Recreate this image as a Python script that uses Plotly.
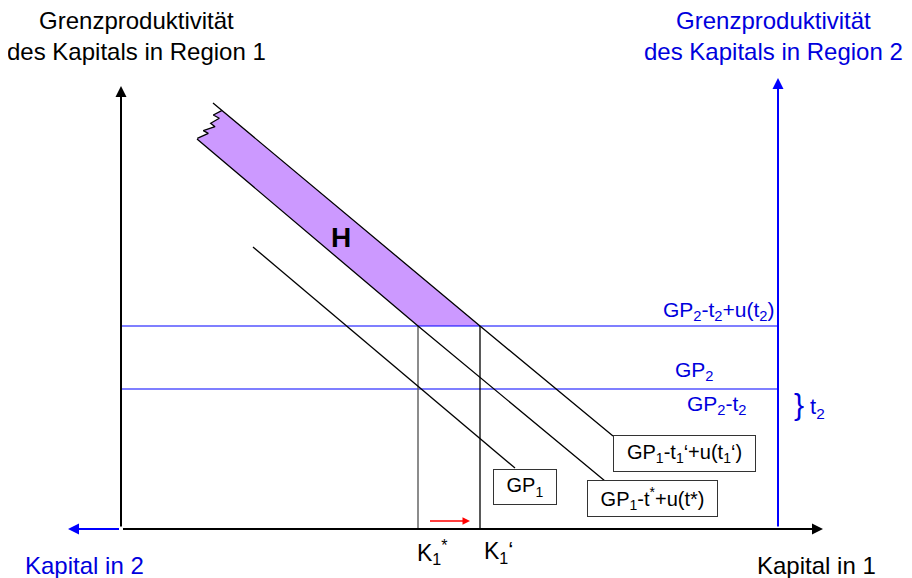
import plotly.graph_objects as go

# ---- diagram data (capital in region 1 on x, marginal productivity on y) ----
gp1_k = [132, 394]
gp1_v = [282, 61]
gp1_tstar_k = [76, 297, 484]
gp1_tstar_v = [390, 203, 48]
gp1_t1_k = [92, 359, 492]
gp1_t1_v = [426, 203, 93]
gp2_level = 140          # GP2
gp2_u_level = 203        # GP2 - t2 + u(t2)
k1_star = 297
k1_prime = 359
k_total = 657            # position of region-2 axis
v_axis1_top = 443
v_axis2_top = 451
k_axis_end = 702
k2_axis_end = -53
zig_k = [76.3, 87.3, 82.3, 94, 89.7, 98.3, 92.3, 100.7]
zig_v = [390.7, 395.7, 398.3, 402.3, 405.7, 410.7, 414, 418.3]
shift_from = 307
shift_to = 349
shift_level = 8

FONT = "Liberation Sans, Arial, sans-serif"
BLUE = "#0000FF"
BLUE_TXT = "#0000DD"

fig = go.Figure()

# purple area H
poly_k = [gp1_t1_k[0], gp1_t1_k[1], gp1_tstar_k[1], gp1_tstar_k[0]] + zig_k[1:] + [gp1_t1_k[0]]
poly_v = [gp1_t1_v[0], gp1_t1_v[1], gp1_tstar_v[1], gp1_tstar_v[0]] + zig_v[1:] + [gp1_t1_v[0]]
fig.add_trace(go.Scatter(x=poly_k, y=poly_v, mode="lines", fill="toself",
                         fillcolor="#CC99FF", line=dict(width=0), hoverinfo="skip"))

def line(xs, ys, color="black", width=1.3):
    fig.add_trace(go.Scatter(x=xs, y=ys, mode="lines",
                             line=dict(color=color, width=width), hoverinfo="skip"))

# horizontal GP2 lines
line([0, k_total], [gp2_u_level, gp2_u_level], BLUE, 1.2)
line([0, k_total], [gp2_level, gp2_level], BLUE, 1.2)
# vertical K lines
line([k1_star, k1_star], [0, gp2_u_level], "#666666", 1.5)
line([k1_prime, k1_prime], [0, gp2_u_level], "black", 1.3)
# GP curves
line(gp1_k, gp1_v)
line(gp1_tstar_k, gp1_tstar_v)
line(gp1_t1_k, gp1_t1_v)
line(zig_k, zig_v)

annotations = []

def arrow(x0, y0, x1, y1, color, width=2, size=1.1):
    annotations.append(dict(x=x1, y=y1, ax=x0, ay=y0, xref="x", yref="y",
                            axref="x", ayref="y", text=" ", showarrow=True,
                            arrowhead=2, arrowsize=size, arrowwidth=width,
                            arrowcolor=color, standoff=0, startstandoff=0,
                            font=dict(size=2)))

# axes
arrow(0, 0, 0, v_axis1_top, "black")
arrow(k_total, 0, k_total, v_axis2_top, BLUE)
arrow(0, 0, k2_axis_end, 0, BLUE)
arrow(0, 0, k_axis_end, 0, "black")
# shift arrow
arrow(shift_from, shift_level, shift_to, shift_level, "red", 1.5, 1.0)

def label(x, y, text, size, color="black", xanchor="center", bold=False):
    annotations.append(dict(x=x, y=y, xref="x", yref="y", text=text, showarrow=False,
                            xanchor=xanchor, yanchor="middle",
                            font=dict(family=FONT, size=size, color=color,
                                      weight="bold" if bold else "normal")))

def box(x, y, text, w, h):
    annotations.append(dict(x=x, y=y, xref="x", yref="y", text=text, showarrow=False,
                            xanchor="center", yanchor="middle", width=w, height=h,
                            bgcolor="white", bordercolor="#333333", borderwidth=1,
                            borderpad=0, font=dict(family=FONT, size=20, color="black")))

label(15, 493, "Grenzproduktivität<br>des Kapitals in Region 1", 24)
label(652, 493, "Grenzproduktivität<br>des Kapitals in Region 2", 24, BLUE_TXT)
label(-37, -36, "Kapital in 2", 24, BLUE_TXT)
label(695, -36, "Kapital in 1", 24)
label(220, 292, "H", 28, bold=True)
label(311, -23, "K<sub>1</sub><sup>*</sup>", 23)
label(377, -23, "K<sub>1</sub>‘", 23)
label(655, 218, "GP<sub>2</sub>-t<sub>2</sub>+u(t<sub>2</sub>)", 21, BLUE_TXT, xanchor="right")
label(573, 158, "GP<sub>2</sub>", 21, BLUE_TXT)
label(596, 124, "GP<sub>2</sub>-t<sub>2</sub>", 21, BLUE_TXT)
label(678, 125, "}", 30, BLUE_TXT)
label(696, 121, "t<sub>2</sub>", 22, BLUE_TXT)

box(563.5, 75.5, "GP<sub>1</sub>-t<sub>1</sub>‘+u(t<sub>1</sub>‘)", 141, 35)
box(531.5, 30.5, "GP<sub>1</sub>-t<sup>*</sup>+u(t*)", 129, 35)
box(404, 42, "GP<sub>1</sub>", 62, 34)

# the page body has an 8px margin: size the figure to the remaining window area
fig.update_layout(
    width=904, height=570,
    margin=dict(l=0, r=0, t=0, b=0),
    paper_bgcolor="white", plot_bgcolor="white",
    showlegend=False,
    xaxis=dict(range=[-113, 791], visible=False, fixedrange=True),
    yaxis=dict(range=[-49, 521], visible=False, fixedrange=True),
    annotations=annotations,
    font=dict(family=FONT),
)

fig.write_html(
    "out.html",
    post_script="document.documentElement.style.overflow='hidden';"
                "document.body.style.overflow='hidden';",
)
